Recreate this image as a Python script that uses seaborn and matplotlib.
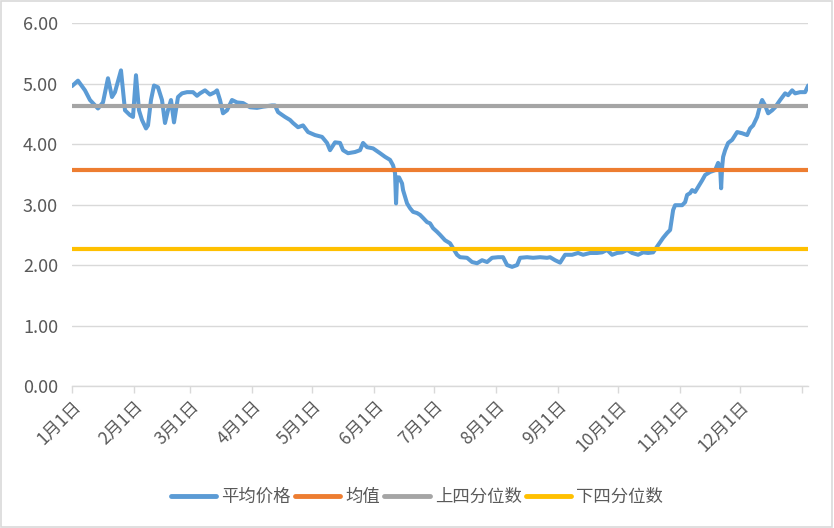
import matplotlib
matplotlib.use("Agg")
import matplotlib.pyplot as plt
import seaborn as sns
import pandas as pd
from matplotlib.patches import Rectangle

sns.set_theme(style="white")
plt.rcParams['font.family'] = ['Noto Sans CJK SC', 'DejaVu Sans']

# day of year (0 = 1月1日) and average price
days = [0, 3, 6.5, 9, 13, 15.5, 18, 20, 21.5, 24.5, 26.5, 29, 30.5, 32, 33.5, 35, 37, 38,
        39.5, 41, 43, 45, 46.5, 48, 49.5, 51, 53, 55, 57.5, 60.5, 62.5, 64, 66.5, 69, 71.5,
        72.5, 74, 75.5, 77.5, 80, 82.5, 85.5, 89, 92.5, 95.5, 100, 101.5, 103, 106.5, 109,
        110.5, 113, 115.5, 118, 121.5, 125, 127.5, 129, 131.5, 134, 135.5, 138, 141.5, 144,
        145.5, 147.5, 150.5,
        154, 156.5, 159, 160.5, 161.5, 162, 162.5, 163.5, 165, 165.5, 167.5, 169, 170.5,
        172.5, 174, 175.5, 177.5, 179, 180.5, 182.5, 184, 186.5, 189, 190.5, 192.5, 194,
        197.5, 200, 202.5, 205, 207.5, 210, 213, 215.5, 217.5, 220, 222.5, 224, 227.5,
        230.5, 234, 237.5, 239, 241.5, 244, 246.5, 250, 253, 255.5, 259, 262.5, 265, 267.5,
        270, 272.5, 275, 277.5, 280, 283, 285.5, 288, 290.5, 293, 295.5, 297.5, 299, 300.5,
        301.5, 305, 306.5, 307.5, 309, 310, 311.5, 313, 315, 316.5, 319, 321.5, 323, 324,
        324.5, 325, 325.5, 326.5, 328, 330, 332.5, 335, 337.5, 339, 340.5, 342.5, 344, 345,
        346.5, 348, 350, 351.5, 354, 356.5, 358, 360, 361.5, 364, 366.5, 368]
avg_price = [4.96, 5.05, 4.89, 4.73, 4.59, 4.69, 5.09, 4.78, 4.86, 5.22, 4.56, 4.48, 4.45,
             5.14, 4.56, 4.40, 4.26, 4.31, 4.73, 4.97, 4.94, 4.73, 4.35, 4.56, 4.73, 4.36,
             4.78, 4.84, 4.86, 4.86, 4.80, 4.84, 4.89, 4.82, 4.86, 4.89, 4.73, 4.51, 4.56,
             4.73, 4.69, 4.68, 4.61, 4.60, 4.62, 4.64, 4.64, 4.53, 4.45, 4.40, 4.35, 4.28,
             4.31, 4.20, 4.15, 4.12, 4.02, 3.90, 4.03, 4.02, 3.90, 3.85, 3.87, 3.90, 4.02,
             3.95, 3.93,
             3.85, 3.79, 3.74, 3.65, 3.52, 3.02, 3.45, 3.45, 3.35, 3.24, 3.02, 2.94, 2.88,
             2.86, 2.83, 2.78, 2.71, 2.69, 2.61, 2.55, 2.50, 2.41, 2.36, 2.28, 2.17, 2.13,
             2.12, 2.05, 2.03, 2.08, 2.05, 2.12, 2.13, 2.13, 2.00, 1.97, 2.00, 2.12, 2.13,
             2.12, 2.13, 2.12, 2.13, 2.08, 2.04, 2.17, 2.17, 2.20, 2.17, 2.20, 2.20, 2.21,
             2.25, 2.17, 2.20, 2.21, 2.25, 2.20, 2.17, 2.21, 2.20, 2.21, 2.33, 2.45, 2.53,
             2.58, 2.91, 2.99, 2.99, 3.04, 3.16, 3.19, 3.24, 3.21, 3.29, 3.40, 3.49, 3.54,
             3.57, 3.69, 3.62, 3.27, 3.62, 3.79, 3.90, 4.02, 4.07, 4.20, 4.18, 4.15, 4.26,
             4.31, 4.45, 4.64, 4.73, 4.64, 4.51, 4.56, 4.61, 4.73, 4.84, 4.81, 4.89, 4.84,
             4.86, 4.86, 4.97]

mean_value = 3.57
upper_quartile = 4.63
lower_quartile = 2.26

month_starts = [0, 31, 59, 90, 120, 151, 181, 212, 243, 273, 304, 334, 365]
month_labels = ["1月1日", "2月1日", "3月1日", "4月1日", "5月1日", "6月1日", "7月1日",
                "8月1日", "9月1日", "10月1日", "11月1日", "12月1日", ""]
yticks = [0, 1, 2, 3, 4, 5, 6]

series_names = ["平均价格", "均值", "上四分位数", "下四分位数"]
colors = ["#5B9BD5", "#ED7D31", "#A5A5A5", "#FFC000"]
text_color = "#595959"

df = pd.DataFrame({"day": days, "price": avg_price})

fig = plt.figure(figsize=(8.34, 5.28), dpi=100)
ax = fig.add_axes([0.0863, 0.269, 0.8827, 0.687])

sns.lineplot(data=df, x="day", y="price", ax=ax, color=colors[0], linewidth=2.9,
             label=series_names[0])
ax.axhline(mean_value, color=colors[1], linewidth=3.0, label=series_names[1])
ax.axhline(upper_quartile, color=colors[2], linewidth=3.0, label=series_names[2])
ax.axhline(lower_quartile, color=colors[3], linewidth=3.0, label=series_names[3])

ax.set_xlim(0, 368)
ax.set_ylim(0, 6)
ax.set_yticks(yticks)
ax.set_yticklabels([f"{v:.2f}" for v in yticks])
ax.set_xticks(month_starts)
ax.set_xticklabels(month_labels, rotation=45, ha="right", rotation_mode="anchor")
ax.set_xlabel("")
ax.set_ylabel("")

ax.grid(axis="y", color="#D9D9D9", linewidth=1.0)
ax.set_axisbelow(True)
for s in ["top", "right", "left"]:
    ax.spines[s].set_visible(False)
ax.spines["bottom"].set_color("#D9D9D9")
ax.spines["bottom"].set_linewidth(1.0)
ax.tick_params(axis="x", which="both", bottom=True, length=5, width=1, color="#D9D9D9",
               labelsize=12.5, labelcolor=text_color, pad=3)
ax.tick_params(axis="y", length=0, labelsize=13, labelcolor=text_color, pad=10)

leg = ax.legend(loc="center", bbox_to_anchor=(0.5, 0.059), bbox_transform=fig.transFigure,
                ncol=4, frameon=False, fontsize=12.5, handlelength=2.6, handletextpad=0.3,
                columnspacing=0.25, labelcolor=text_color)
for h in leg.get_lines():
    h.set_linewidth(3.5)

fig.patches.append(Rectangle((0.001, 0.001), 0.997, 0.997, transform=fig.transFigure,
                             fill=False, edgecolor="#D9D9D9", linewidth=1.2))

fig.savefig("out.png", dpi=100)
